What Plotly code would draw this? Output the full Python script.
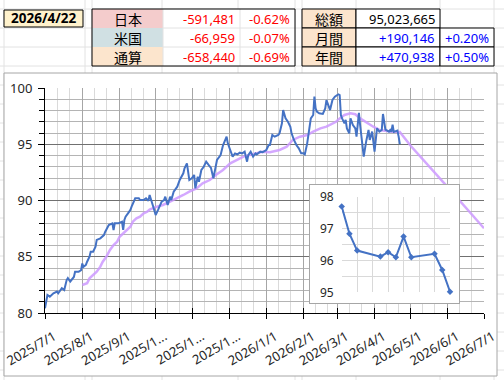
import plotly.graph_objects as go

# ---------------- data ----------------
blue_dates = [
    "2025-07-01","2025-07-03","2025-07-05","2025-07-08","2025-07-11","2025-07-12","2025-07-15","2025-07-17",
    "2025-07-19","2025-07-20","2025-07-22","2025-07-25","2025-07-26","2025-07-29","2025-07-31","2025-08-01",
    "2025-08-02","2025-08-04","2025-08-05","2025-08-07","2025-08-08","2025-08-10","2025-08-12","2025-08-13",
    "2025-08-16","2025-08-19","2025-08-20","2025-08-21","2025-08-23","2025-08-26","2025-08-27","2025-08-28",
    "2025-08-31","2025-09-03","2025-09-04","2025-09-05","2025-09-06","2025-09-08","2025-09-10","2025-09-11",
    "2025-09-13","2025-09-14","2025-09-17","2025-09-18","2025-09-21","2025-09-23","2025-09-25","2025-09-26",
    "2025-09-29","2025-10-01","2025-10-03","2025-10-06","2025-10-08","2025-10-09","2025-10-11","2025-10-13",
    "2025-10-14","2025-10-16","2025-10-19","2025-10-21","2025-10-24","2025-10-25","2025-10-27","2025-10-29",
    "2025-10-31","2025-11-02","2025-11-03","2025-11-05","2025-11-06","2025-11-08","2025-11-10","2025-11-12",
    "2025-11-14","2025-11-16","2025-11-18","2025-11-21","2025-11-24","2025-11-26","2025-11-29","2025-11-30",
    "2025-12-02","2025-12-04","2025-12-06","2025-12-08","2025-12-10","2025-12-12","2025-12-14","2025-12-16",
    "2025-12-17","2025-12-19","2025-12-21","2025-12-23","2025-12-24","2025-12-27","2025-12-29","2026-01-01",
    "2026-01-03","2026-01-04","2026-01-06","2026-01-08","2026-01-11","2026-01-12","2026-01-14","2026-01-15",
    "2026-01-17","2026-01-18","2026-01-19","2026-01-21","2026-01-22","2026-01-24","2026-01-26","2026-01-28",
    "2026-01-30","2026-02-01","2026-02-02","2026-02-04","2026-02-06","2026-02-07","2026-02-09","2026-02-10",
    "2026-02-11","2026-02-12","2026-02-14","2026-02-16","2026-02-17","2026-02-19","2026-02-20","2026-02-22",
    "2026-02-23","2026-02-25","2026-02-27","2026-03-01","2026-03-02","2026-03-03","2026-03-04","2026-03-05",
    "2026-03-07","2026-03-08","2026-03-09","2026-03-11","2026-03-12","2026-03-14","2026-03-16","2026-03-17",
    "2026-03-19","2026-03-20","2026-03-21","2026-03-23","2026-03-25","2026-03-26","2026-03-27","2026-03-28",
    "2026-03-30","2026-04-01","2026-04-02","2026-04-03","2026-04-05","2026-04-07",
    "2026-04-08","2026-04-09","2026-04-10","2026-04-13","2026-04-14","2026-04-15","2026-04-16","2026-04-17",
    "2026-04-20","2026-04-21","2026-04-22",
]
blue_vals = [
    80.42,81.60,81.45,81.75,81.90,81.75,82.20,82.04,
    82.93,83.10,82.80,83.20,83.67,83.67,83.80,84.40,
    84.10,84.27,84.56,85.00,85.45,85.45,85.90,86.50,
    86.64,86.93,87.20,87.44,87.82,87.97,87.38,87.97,
    87.97,88.12,87.38,88.27,88.56,88.86,89.16,89.45,
    89.90,90.20,90.20,90.04,90.04,90.20,89.98,90.49,
    89.45,88.71,89.16,89.90,90.04,90.34,89.60,90.34,
    90.04,90.78,91.23,91.82,92.42,92.86,93.30,91.82,
    91.97,92.27,91.08,92.12,91.67,92.71,93.00,93.45,
    93.16,92.90,91.97,93.60,94.04,94.90,95.67,95.08,
    94.49,93.90,94.19,94.10,94.25,94.19,94.34,93.45,
    94.04,94.34,93.90,94.19,94.10,94.34,94.30,94.49,
    94.93,94.93,95.82,95.67,95.82,95.97,96.86,98.04,
    97.30,97.16,97.00,96.56,95.97,95.38,94.93,94.64,
    94.19,94.19,94.10,95.08,96.71,97.30,97.60,99.23,
    98.19,97.90,97.75,97.75,97.70,98.19,98.93,98.34,
    98.04,98.93,99.23,99.38,99.44,99.38,97.60,97.30,
    96.86,97.16,96.41,95.97,97.30,96.71,96.41,95.67,
    97.80,96.71,95.67,93.90,95.23,95.82,96.27,95.38,
    96.12,94.34,95.23,96.41,96.12,96.27,
    97.69,96.84,96.31,96.12,96.26,96.10,96.75,96.10,
    96.21,95.70,95.02,
]

ma_dates = [
    "2025-08-01","2025-08-05","2025-08-07","2025-08-10","2025-08-13","2025-08-16","2025-08-18","2025-08-21",
    "2025-08-24","2025-08-27","2025-08-30","2025-09-01","2025-09-04","2025-09-07","2025-09-10","2025-09-12",
    "2025-09-15","2025-09-18","2025-09-21","2025-09-24","2025-09-26","2025-10-02","2025-10-07","2025-10-13",
    "2025-10-18","2025-10-24","2025-10-29","2025-11-04","2025-11-09","2025-11-15","2025-11-20","2025-11-26",
    "2025-12-02","2025-12-07","2025-12-13","2025-12-18","2025-12-24","2025-12-29","2026-01-04","2026-01-09",
    "2026-01-12","2026-01-18","2026-01-23","2026-01-29","2026-02-04","2026-02-09","2026-02-15","2026-02-20",
    "2026-02-25","2026-02-28","2026-03-03","2026-03-07","2026-03-12","2026-03-16","2026-03-20","2026-03-26",
    "2026-03-31","2026-04-05","2026-04-11","2026-04-16","2026-04-22","2026-05-01","2026-06-01","2026-07-01",
]
ma_vals = [
    82.49,82.64,83.08,83.38,83.67,84.12,84.56,85.00,
    85.60,86.04,86.34,86.78,87.08,87.38,87.67,88.12,
    88.41,88.56,88.86,89.00,89.20,89.45,89.60,89.90,
    90.20,90.49,90.78,91.08,91.53,91.82,92.27,92.71,
    93.30,93.60,93.90,94.04,94.19,94.34,94.30,94.45,
    94.49,94.78,95.38,95.67,95.82,96.12,96.41,96.56,
    96.86,97.00,97.30,97.60,97.75,97.67,97.30,96.86,
    96.56,96.27,96.18,96.12,96.10,94.87,91.16,87.53,
]

month_ticks = ["2025-07-01","2025-08-01","2025-09-01","2025-10-01","2025-11-01","2025-12-01","2026-01-01",
               "2026-02-01","2026-03-01","2026-04-01","2026-05-01","2026-06-01","2026-07-01"]
month_labels = ["2025/7/1","2025/8/1","2025/9/1","2025/1...","2025/1...","2025/1...","2026/1/1",
                "2026/2/1","2026/3/1","2026/4/1","2026/5/1","2026/6/1","2026/7/1"]
inset_start = "2026-04-08"
inset_end = "2026-04-22"

date_text = "2026/4/22"
t1_labels = ["日本", "米国", "通算"]
t1_values = ["-591,481", "-66,959", "-658,440"]
t1_pcts = ["-0.62%", "-0.07%", "-0.69%"]
t2_labels = ["総額", "月間", "年間"]
t2_values = ["95,023,665", "+190,146", "+470,938"]
t2_pcts = ["", "+0.20%", "+0.50%"]

# ---------------- helpers (pixel -> paper) ----------------
W, H = 504, 380
L, R, T, B = 45, 20, 88, 67
PW, PH = W - L - R, H - T - B
def fx(x):
    return (x - L) / PW
def fy(y):
    return (H - B - y) / PH

BLUE = "#4472c4"
PURPLE = "#cc99ff"
NUMFONT = "Noto Sans, Open Sans, sans-serif"
JPFONT = "Noto Sans CJK JP, sans-serif"

fig = go.Figure()
fig.add_trace(go.Scatter(x=ma_dates, y=ma_vals, mode="lines",
                         line=dict(color=PURPLE, width=2.5), opacity=0.85,
                         xaxis="x", yaxis="y", hoverinfo="skip"))
fig.add_trace(go.Scatter(x=blue_dates, y=blue_vals, mode="lines",
                         line=dict(color=BLUE, width=2),
                         xaxis="x", yaxis="y", hoverinfo="skip"))
# overlay axis carrying the inner half of the month tick marks
fig.add_trace(go.Scatter(x=[None], y=[None], xaxis="x4", yaxis="y", showlegend=False, hoverinfo="skip"))
# inset frame subplot (empty)
fig.add_trace(go.Scatter(x=[None], y=[None], xaxis="x2", yaxis="y2", showlegend=False, hoverinfo="skip"))
# inset data
ins_x = [d for d in blue_dates if d >= inset_start]
ins_y = [v for d, v in zip(blue_dates, blue_vals) if d >= inset_start]
fig.add_trace(go.Scatter(x=ins_x, y=ins_y, mode="lines+markers",
                         line=dict(color=BLUE, width=2),
                         marker=dict(color=BLUE, size=5, symbol="diamond"),
                         cliponaxis=False, xaxis="x3", yaxis="y3", hoverinfo="skip"))

minor_x = []
for y_, m_ in [(2025, m) for m in range(7, 13)] + [(2026, m) for m in range(1, 7)]:
    minor_x += [f"{y_}-{m_:02d}-11", f"{y_}-{m_:02d}-21"]

axis_font = dict(family=NUMFONT, size=13, color="#262626")

shapes = []
annotations = []

# spreadsheet grid in background
GRID = "#e2e2e2"
for xv in [4, 85, 92, 162, 238, 295, 302, 356, 440, 494]:
    shapes.append(dict(type="line", xref="paper", yref="paper", x0=fx(xv), x1=fx(xv),
                       y0=fy(0), y1=fy(380), line=dict(color=GRID, width=1), layer="below"))
yv = 9
while yv < 380:
    shapes.append(dict(type="line", xref="paper", yref="paper", x0=fx(0), x1=fx(504),
                       y0=fy(yv), y1=fy(yv), line=dict(color=GRID, width=1), layer="below"))
    yv += 19

def rect(x0, y0, x1, y1, fill=None, line="black", width=1):
    shapes.append(dict(type="rect", xref="paper", yref="paper", x0=fx(x0), x1=fx(x1),
                       y0=fy(y1), y1=fy(y0), fillcolor=fill if fill else "rgba(0,0,0,0)",
                       line=dict(color=line, width=width) if line else dict(width=0),
                       layer="below"))

def text(x, y, s, anchor="center", color="black", size=13, family=NUMFONT, bold=False):
    annotations.append(dict(xref="paper", yref="paper", x=fx(x), y=fy(y), text=f"<b>{s}</b>" if bold else s,
                            showarrow=False, xanchor=anchor, yanchor="middle",
                            font=dict(family=family, size=size, color=color)))

# chart area
rect(4, 73, 497, 376, fill="white", line="#a6a6a6")

# date box
rect(4, 10, 83, 27, fill="#fff2cc", line="black")
text(43.5, 18.5, date_text, bold=True, size=13.5)

# table 1
rows = [(9, 28), (28, 47), (47, 66)]
fills1 = ["#f4cccc", "#d0e0e3", "#fce5cd"]
for (y0, y1), f in zip(rows, fills1):
    rect(92, y0, 163, y1, fill=f, line=None)
rect(163, 9, 295, 66, fill="white", line=None)
for yy in [28, 47]:
    shapes.append(dict(type="line", xref="paper", yref="paper", x0=fx(163), x1=fx(295),
                       y0=fy(yy), y1=fy(yy), line=dict(color=GRID, width=1), layer="below"))
for xx in [163, 240]:
    shapes.append(dict(type="line", xref="paper", yref="paper", x0=fx(xx), x1=fx(xx),
                       y0=fy(9), y1=fy(66), line=dict(color=GRID, width=1), layer="below"))
rect(92, 9, 295, 66, line="black")
for i, (y0, y1) in enumerate(rows):
    cy = (y0 + y1) / 2 + 0.5
    text(127.5, cy, t1_labels[i], family=JPFONT, size=14)
    text(237, cy, t1_values[i], anchor="right", color="#ff0000")
    text(292, cy, t1_pcts[i], anchor="right", color="#ff0000")

# table 2
for i, (y0, y1) in enumerate(rows):
    rect(302, y0, 356, y1, fill="#fce5cd", line="black")
    rect(356, y0, 440, y1, fill="white", line="black")
    if i > 0:
        rect(440, y0, 494, y1, fill="white", line="black")
    cy = (y0 + y1) / 2 + 0.5
    text(329, cy, t2_labels[i], family=JPFONT, size=14)
    text(437, cy, t2_values[i], anchor="right", color="black" if i == 0 else "#0000ff")
    if t2_pcts[i]:
        text(491, cy, t2_pcts[i], anchor="right", color="#0000ff")

fig.update_layout(
    width=W, height=H, autosize=False,
    margin=dict(l=L, r=R, t=T, b=B, pad=0),
    paper_bgcolor="white", plot_bgcolor="white",
    showlegend=False,
    shapes=shapes, annotations=annotations,
    xaxis=dict(type="date", range=[month_ticks[0], month_ticks[-1]],
               tickmode="array", tickvals=month_ticks, ticktext=month_labels,
               tickangle=-30, tickfont=axis_font, ticklabeloverflow="allow",
               ticklabelshift=9, ticklabelstandoff=5,
               showgrid=True, gridcolor="#a6a6a6", gridwidth=1,
               minor=dict(tickmode="array", tickvals=minor_x, showgrid=True, gridcolor="#dadada", ticks=""),
               showline=True, linecolor="black", linewidth=1,
               ticks="outside", ticklen=5, tickcolor="black",
               zeroline=False, automargin=False, fixedrange=True, domain=[0, 1]),
    xaxis4=dict(type="date", overlaying="x", anchor="y", side="bottom",
                range=[month_ticks[0], month_ticks[-1]],
                tickmode="array", tickvals=month_ticks, showticklabels=False,
                ticks="inside", ticklen=5, tickcolor="black",
                showgrid=False, zeroline=False, showline=False, automargin=False, fixedrange=True),
    yaxis=dict(range=[80, 100], tickmode="linear", tick0=80, dtick=5,
               tickfont=axis_font, ticklabeloverflow="allow",
               showgrid=True, gridcolor="#707070", gridwidth=1,
               minor=dict(dtick=1, showgrid=True, gridcolor="#b4b4b4", ticks="outside", ticklen=5, tickcolor="black"),
               showline=True, linecolor="black", linewidth=1,
               ticks="outside", ticklen=6, tickcolor="black", ticklabelstandoff=3,
               zeroline=False, automargin=False, fixedrange=True, domain=[0, 1]),
    xaxis2=dict(domain=[fx(310), fx(459)], anchor="y2", range=[0, 1],
                showgrid=False, zeroline=False, showticklabels=False, ticks="",
                showline=True, mirror=True, linecolor="#a6a6a6", linewidth=1, automargin=False),
    yaxis2=dict(domain=[fy(303), fy(185)], anchor="x2", range=[0, 1],
                showgrid=False, zeroline=False, showticklabels=False, ticks="",
                showline=True, mirror=True, linecolor="#a6a6a6", linewidth=1, automargin=False),
    xaxis3=dict(domain=[fx(341.7), fx(450)], anchor="y3", type="date",
                range=[inset_start, inset_end], tick0=inset_start, dtick=2 * 86400000,
                showgrid=True, gridcolor="#d9d9d9", zeroline=False, showticklabels=False,
                ticks="", showline=False, automargin=False),
    yaxis3=dict(domain=[fy(292.3), fy(196.7)], anchor="x3", range=[95, 98],
                tickmode="linear", tick0=95, dtick=1,
                tickfont=dict(family=NUMFONT, size=12, color="#262626"),
                showgrid=True, gridcolor="#d9d9d9",
                minor=dict(dtick=0.5, showgrid=True, gridcolor="#d9d9d9"),
                zeroline=False, showline=False, ticks="", ticklabelstandoff=7, automargin=False),
)

fig.write_html("out.html", config={"displayModeBar": False, "staticPlot": True},
               post_script="document.body.style.margin='0';document.body.style.overflow='hidden';")
